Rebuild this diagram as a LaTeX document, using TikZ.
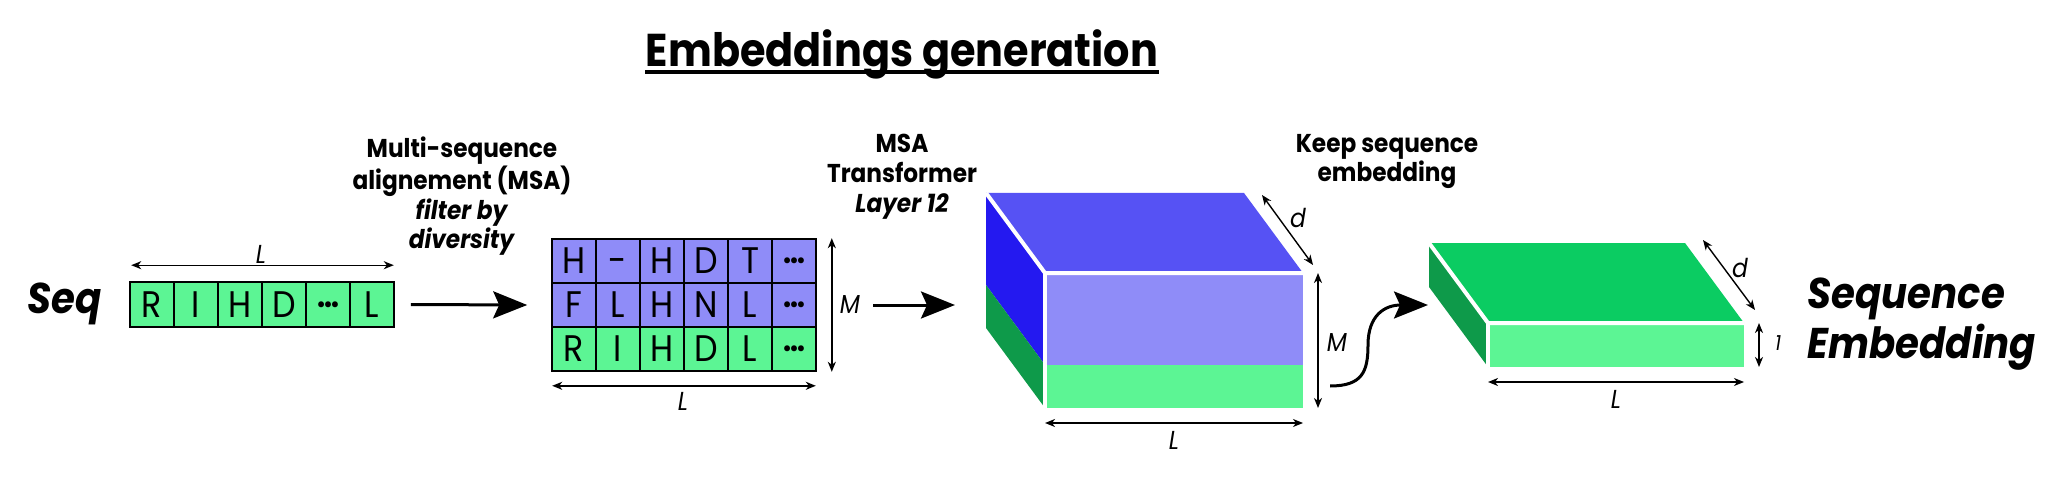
\documentclass[tikz,border=0pt]{standalone}
\usepackage{fontspec}
\setmainfont{Poppins}[FakeStretch=0.9]
\usetikzlibrary{arrows.meta,calc}
\definecolor{lgreen}{HTML}{5CF594}
\definecolor{lpurple}{HTML}{8F8CF8}
\definecolor{topblue}{HTML}{5652F4}
\definecolor{sideblue}{HTML}{2419F0}
\definecolor{sidegreen}{HTML}{0E9A4A}
\definecolor{topgreen}{HTML}{0BCC62}
\newcommand{\celldots}{{\fontsize{16}{16}\bfseries\selectfont …}}
\begin{document}
\begin{tikzpicture}[x=0.5pt,y=-0.5pt,
  cell/.style={draw=black, line width=0.8pt, minimum width=22pt, minimum height=22pt, inner sep=0pt, font=\fontsize{18.5}{20}\selectfont},
  dim/.style={line width=0.7pt, {Stealth[length=5pt,width=4pt,inset=1.5pt]}-{Stealth[length=5pt,width=4pt,inset=1.5pt]}},
  dimlabel/.style={font=\itshape\fontsize{13}{14}\selectfont, inner sep=0pt},
  bigarrow/.style={line width=1.5pt, -{Stealth[length=17pt,width=13.5pt,inset=3pt]}},
  face/.style={draw=white, line width=2pt},
  caption/.style={font=\bfseries\fontsize{12.9}{#1}\selectfont, align=center, inner sep=0pt, anchor=north},
  bigtext/.style={font=\bfseries\itshape\fontsize{21.5}{25}\selectfont, inner sep=0pt},
]
\useasboundingbox (0,0) rectangle (2048,486);

% title
\node[font=\bfseries\fontsize{23}{28}\selectfont, inner sep=0pt, anchor=base] (title) at (902,67) {Embeddings generation};
\draw[line width=2pt] ([yshift=-2.5pt]title.base west) -- ([yshift=-2.5pt]title.base east);

% Seq
\node[bigtext, anchor=base west] (seq) at (27,313) {Seq};
\foreach \t [count=\i] in {R,I,H,D,\celldots,L}
  \node[cell, fill=lgreen, minimum height=22.5pt] (s\i) at ({108+44*\i},304.5) {\t};
\draw[dim] ($(s1.north west)+(2,-16)$) -- ($(s6.north east)+(-1,-16)$);
\node[dimlabel] (Lseq) at (261,254) {L};

% captions
\node[caption=13pt] (msacap) at (462,136) {Multi-sequence\\alignement (MSA)\\\textit{filter by}\\\textit{diversity}};
\node[caption=15pt] (trcap) at (902,134) {MSA\\Transformer\\\textit{Layer 12}};
\node[caption=14.5pt] (keepcap) at (1387,134) {Keep sequence\\embedding};

% MSA grid
\foreach \t [count=\i] in {H,{\vphantom{H}-},H,D,T,\celldots}
  \node[cell, fill=lpurple] (m1\i) at ({530+44*\i},261) {\t};
\foreach \t [count=\i] in {F,L,H,N,L,\celldots}
  \node[cell, fill=lpurple] (m2\i) at ({530+44*\i},305) {\t};
\foreach \t [count=\i] in {R,I,H,D,L,\celldots}
  \node[cell, fill=lgreen] (m3\i) at ({530+44*\i},349) {\t};
\draw[dim] ($(m16.north east)+(15,0)$) -- ($(m36.south east)+(15,0)$);
\node[dimlabel] (Mmsa) at (850,305) {M};
\draw[dim] ($(m31.south west)+(1,14)$) -- ($(m36.south east)+(-1,14)$);
\node[dimlabel] (Lmsa) at (683,401) {L};

\draw[bigarrow] ([xshift=8pt]s6.east) -- ([xshift=-12pt]m21.west);
\coordinate (a2s) at (873,305);
\coordinate (a2t) at (955,305);
\draw[bigarrow] (a2s) -- (a2t);

% big box
\coordinate (Bbtl) at (986,193);
\coordinate (Bbtr) at (1244,193);
\coordinate (Bbml) at (986,285);
\coordinate (Bbbl) at (986,328);
\coordinate (Bftl) at (1045,273);
\coordinate (Bftr) at (1303,273);
\coordinate (Bfml) at (1045,365);
\coordinate (Bfmr) at (1303,365);
\coordinate (Bfbl) at (1045,408);
\coordinate (Bfbr) at (1303,408);
\fill[topblue] (Bbtl) -- (Bbtr) -- (Bftr) -- (Bftl) -- cycle;
\fill[sideblue] (Bbtl) -- (Bftl) -- (Bfml) -- (Bbml) -- cycle;
\fill[sidegreen] (Bbml) -- (Bfml) -- (Bfbl) -- (Bbbl) -- cycle;
\fill[lpurple] (Bftl) rectangle (Bfmr);
\fill[lgreen] (Bfml) rectangle (Bfbr);
\draw[face] (Bbtl) -- (Bftl) -- (Bftr);
\draw[face] (Bftl) -- (Bfbl);
\draw[dim] (1262,195) -- (1313,265);
\node[dimlabel] (dbig) at (1298,218) {d};
\draw[dim] ($(Bftr)+(15,0)$) -- ($(Bfbr)+(15,0)$);
\node[dimlabel] (Mbig) at (1337,343) {M};
\draw[dim] ($(Bfbl)+(0,15)$) -- ($(Bfbr)+(0,15)$);
\node[dimlabel] (Lbig) at (1174,440) {L};

% curved arrow
\coordinate (cstart) at (1330,386);
\coordinate (ctip) at (1428,305);
\draw[bigarrow] (cstart) .. controls (1362,386) and (1368,372) .. (1368,345) .. controls (1368,315) and (1385,305) .. (ctip);

% thin box
\coordinate (Tbtl) at (1429,243);
\coordinate (Tbtr) at (1685,243);
\coordinate (Tbbl) at (1429,287);
\coordinate (Tftl) at (1488,323);
\coordinate (Tftr) at (1744,323);
\coordinate (Tfbl) at (1488,367);
\coordinate (Tfbr) at (1744,367);
\fill[topgreen] (Tbtl) -- (Tbtr) -- (Tftr) -- (Tftl) -- cycle;
\fill[sidegreen] (Tbtl) -- (Tftl) -- (Tfbl) -- (Tbbl) -- cycle;
\fill[lgreen] (Tftl) rectangle (Tfbr);
\draw[face] (Tbtl) -- (Tftl) -- (Tftr);
\draw[face] (Tftl) -- (Tfbl);
\draw[dim] (1703,240) -- (1755,310);
\node[dimlabel] (dthin) at (1740,268) {d};
\draw[dim] ($(Tftr)+(15,0)$) -- ($(Tfbr)+(15,0)$);
\node[dimlabel, font=\itshape\fontsize{10.5}{11}\selectfont] (onethin) at (1778,343) {1};
\draw[dim] ($(Tfbl)+(0,15)$) -- ($(Tfbr)+(0,15)$);
\node[dimlabel] (Lthin) at (1616,399) {L};

% Sequence Embedding
\node[bigtext, align=left, anchor=north west] (seqemb) at (1807,277) {Sequence\\Embedding};
\end{tikzpicture}
\end{document}
